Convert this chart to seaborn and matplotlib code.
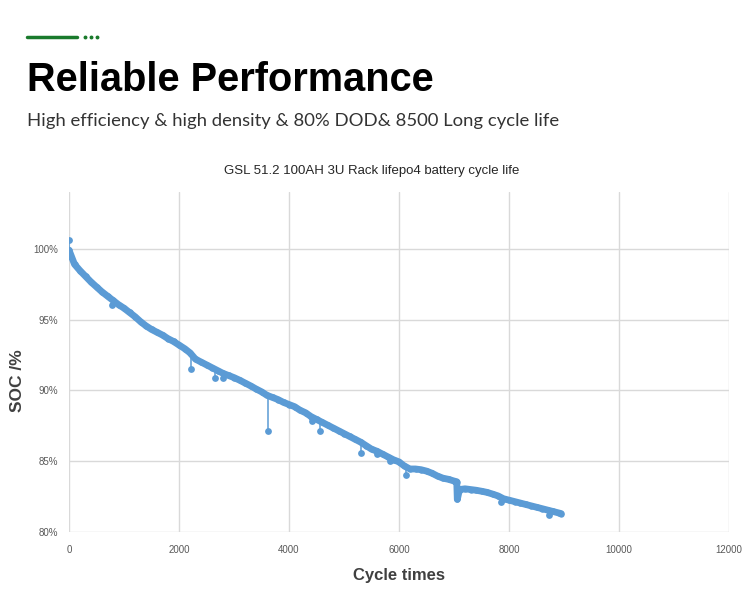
import seaborn as sns
import matplotlib.pyplot as plt
import pandas as pd
from matplotlib.lines import Line2D

# main cycle-life curve, every 100 cycles
cycles = [0, 100, 200, 300, 400, 500, 600, 700, 800, 900,
          1000, 1100, 1200, 1300, 1400, 1500, 1600, 1700, 1800, 1900,
          2000, 2100, 2200, 2300, 2400, 2500, 2600, 2700, 2800, 2900,
          3000, 3100, 3200, 3300, 3400, 3500, 3600, 3700, 3800, 3900,
          4000, 4100, 4200, 4300, 4400, 4500, 4600, 4700, 4800, 4900,
          5000, 5100, 5200, 5300, 5400, 5500, 5600, 5700, 5800, 5900,
          6000, 6100, 6200, 6300, 6400, 6500, 6600, 6700, 6800, 6900,
          7000, 7050, 7060, 7100, 7200, 7300, 7400, 7500, 7600, 7700,
          7800, 7900, 8000, 8100, 8200, 8300, 8400, 8500, 8600, 8700,
          8800, 8900, 8950]
soc = [99.9, 98.9, 98.45, 98.05, 97.65, 97.3, 96.95, 96.65, 96.35, 96.05,
       95.8, 95.5, 95.2, 94.85, 94.55, 94.3, 94.1, 93.9, 93.65, 93.45,
       93.2, 92.95, 92.65, 92.2, 92.0, 91.8, 91.6, 91.4, 91.2, 91.05,
       90.9, 90.72, 90.52, 90.32, 90.1, 89.9, 89.65, 89.5, 89.35, 89.15,
       89.0, 88.85, 88.6, 88.42, 88.15, 87.95, 87.75, 87.55, 87.35, 87.15,
       86.95, 86.75, 86.55, 86.35, 86.1, 85.85, 85.7, 85.5, 85.3, 85.1,
       84.95, 84.65, 84.45, 84.45, 84.4, 84.3, 84.15, 83.95, 83.8, 83.72,
       83.6, 83.55, 82.3, 83.0, 83.05, 83.0, 82.95, 82.88, 82.8, 82.68,
       82.55, 82.35, 82.25, 82.15, 82.05, 81.95, 81.85, 81.75, 81.65, 81.55,
       81.45, 81.35, 81.3]

# single outlying readings that show as thin spikes off the band
spike_cycles = [0, 0, 20, 780, 2220, 2660, 2800, 3610, 4420, 4570,
                5300, 5600, 5830, 6130, 7850, 8720]
spike_soc = [100.6, 99.5, 99.5, 96.0, 91.5, 90.9, 90.85, 87.1, 87.85, 87.15,
             85.6, 85.5, 85.0, 84.05, 82.1, 81.2]
spike_from = [99.9, 99.9, 99.3, 96.4, 92.6, 91.5, 91.2, 89.6, 88.1, 87.8,
              86.35, 85.7, 85.25, 84.6, 82.5, 81.55]

y_ticks = [80, 85, 90, 95, 100]
y_tick_labels = ["80%", "85%", "90%", "95%", "100%"]
x_ticks = [0, 2000, 4000, 6000, 8000, 10000, 12000]

main = pd.DataFrame({"cycle": cycles, "soc": soc})
spikes = pd.DataFrame({"cycle": spike_cycles, "soc": spike_soc,
                       "band": spike_from})

sns.set_theme(style="white")
plt.rcParams["font.family"] = ["Liberation Sans", "DejaVu Sans"]

fig = plt.figure(figsize=(7.5, 6), dpi=100)
ax = fig.add_axes([0.092, 0.1133, 0.88, 0.5667])

blue = "#5b9bd5"
# dense markers in the original merge into a thick band
sns.lineplot(data=main, x="cycle", y="soc", sort=False, estimator=None,
             color=blue, lw=4.9, solid_capstyle="round", ax=ax)
sns.lineplot(data=main, x="cycle", y="soc", sort=False, estimator=None,
             color=blue, lw=1.1, marker="o", markersize=4.6,
             markeredgewidth=0, ax=ax)
ax.vlines(spikes["cycle"], spikes["soc"], spikes["band"], color=blue, lw=1.1)
sns.scatterplot(data=spikes, x="cycle", y="soc", color=blue, s=24,
                linewidth=0, ax=ax)

ax.set_xlim(0, 12000)
ax.set_ylim(80, 104)
ax.set_xticks(x_ticks)
ax.set_yticks(y_ticks)
ax.set_yticklabels(y_tick_labels)
ax.grid(True, color="#d9d9d9", lw=1)
ax.set_axisbelow(True)
for s in ax.spines.values():
    s.set_visible(False)
ax.tick_params(axis="both", length=0, labelsize=7, labelcolor="#595959")
ax.tick_params(axis="x", pad=9)
ax.tick_params(axis="y", pad=8)

ax.set_xlabel("Cycle times", fontsize=12, fontweight="bold", color="#404040")
ax.set_ylabel("SOC /%", fontsize=12.5, fontweight="bold", color="#404040")
ax.xaxis.set_label_coords(0.5, -0.106)
ax.yaxis.set_label_coords(-0.066, 0.444)
ax.set_title("GSL 51.2 100AH 3U Rack lifepo4 battery cycle life",
             fontsize=9.5, color="#262626", pad=13, x=0.459)

# page header
fig.add_artist(Line2D([27 / 750, 77 / 750], [1 - 37 / 600] * 2,
                      color="#1a7a2c", lw=2.5))
for dx in (85, 91, 97):
    fig.add_artist(Line2D([dx / 750], [1 - 37 / 600], marker="o",
                          markersize=1.8, color="#1a7a2c", lw=0))
fig.text(27 / 750, 1 - 80 / 600, "Reliable Performance", fontsize=28.6,
         fontweight="bold", color="black", va="center", ha="left")
fig.text(27 / 750, 1 - 121 / 600,
         "High efficiency & high density & 80% DOD& 8500 Long cycle life",
         fontsize=13.3, color="#333333", va="center",
         ha="left", family=["Lato", "DejaVu Sans"])

fig.savefig("out.png", dpi=100)
